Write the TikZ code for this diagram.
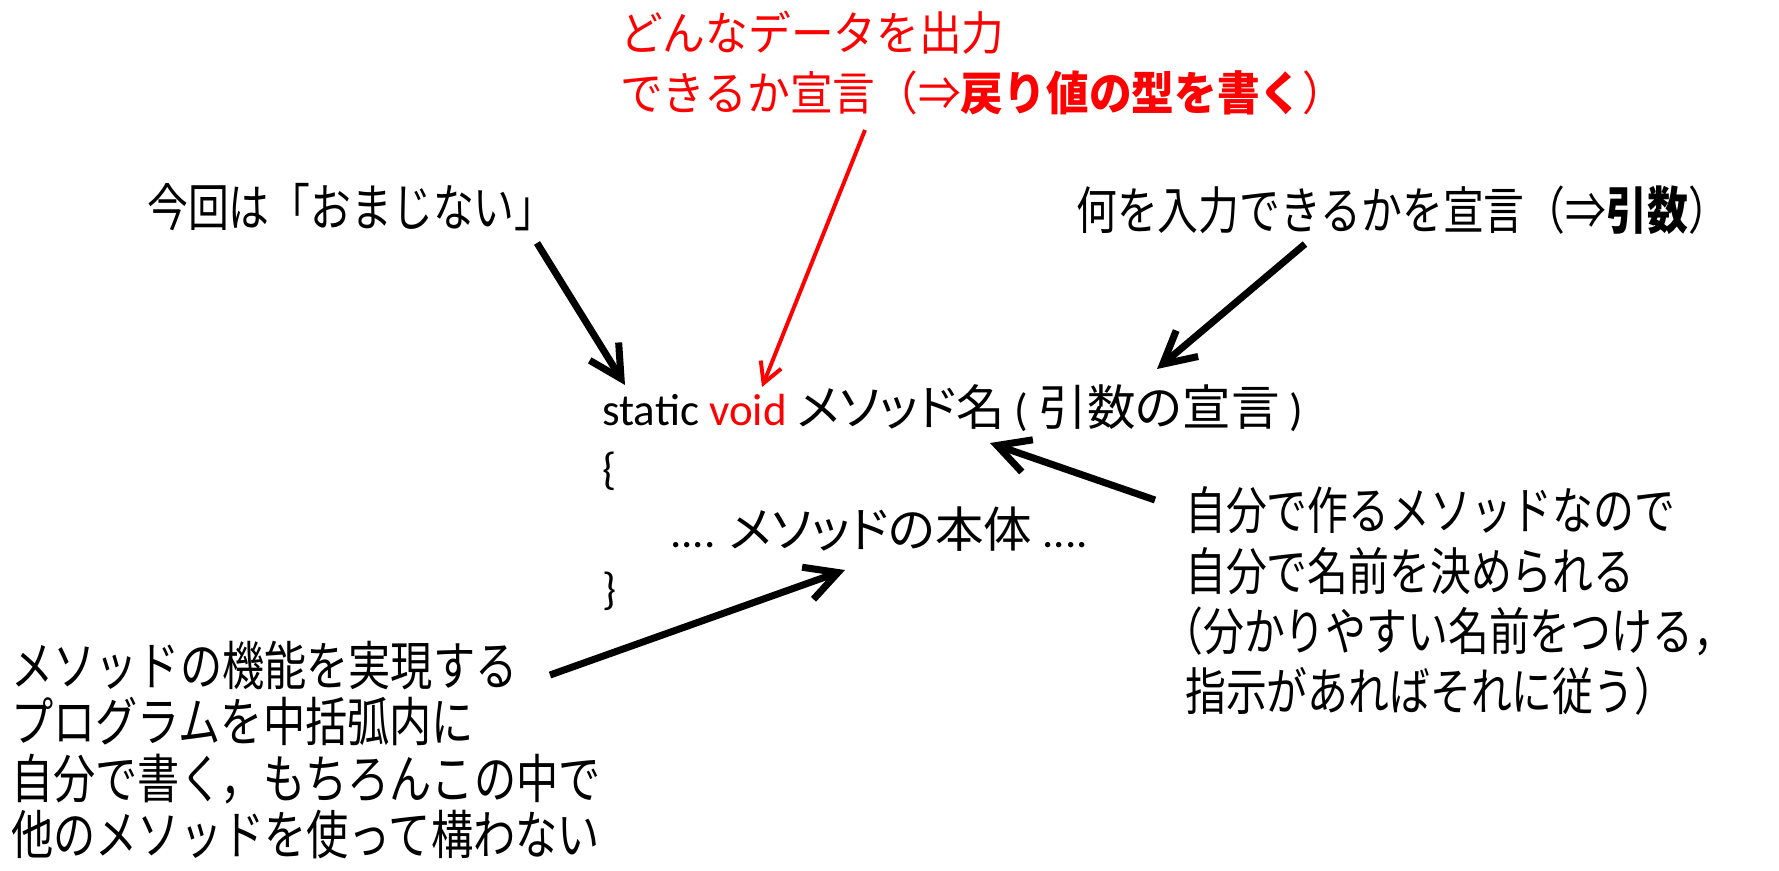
\documentclass[tikz,border=0pt]{standalone}
\usepackage{fontspec}
\setmainfont{Carlito}
\newfontfamily\jp{Noto Sans CJK JP}[FakeStretch=0.8]
\newfontfamily\jpw{Noto Sans CJK JP}[FakeStretch=0.92]
\newfontfamily\jpc{Noto Sans CJK JP}[RawFeature=+palt]
\newcommand\jpcode{\fontsize{34.5}{38}\selectfont\jpc}
\usetikzlibrary{arrows.meta}

\begin{document}
\begin{tikzpicture}[x=0.025cm,y=-0.025cm,
    note/.style={inner sep=0pt,anchor=west,align=left,font=\fontsize{36.3}{42.7}\selectfont\jp},
    code/.style={inner sep=0pt,anchor=base west,font=\fontsize{32}{38}\selectfont},
    callout/.style={line width=5pt,-{Straight Barb[length=0.8cm,width=0.85cm]}},
    redcallout/.style={draw=red,line width=2.8pt,-{Straight Barb[length=0.5cm,width=0.55cm]}}]
  \useasboundingbox (0,0) rectangle (1779,870);

  % labels round the method
  \node[note,text=red,font=\fontsize{33}{42.7}\selectfont\jpw] (dekiru) at (620,63) {どんなデータを出力\\できるか宣言（⇒\textbf{戻り値の型を書く}）};
  \node[note] (konkai) at (147,207) {今回は「おまじない」};
  \node[note] (nani) at (1076,210) {何を入力できるかを宣言（⇒\textbf{引数}）};
  \node[note] (jibun) at (1185,601) {自分で作るメソッドなので\\自分で名前を決められる\\\kern-0.45em（分かりやすい名前をつける，\\指示があればそれに従う）};
  \node[note,font=\fontsize{37.5}{40}\selectfont\jp] (kinou) at (11,750) {メソッドの機能を実現する\\プログラムを中括弧内に\\自分で書く，もちろんこの中で\\他のメソッドを使って構わない};

  % the method itself
  \node[code] (sig) at (602,425) {static \textcolor{red}{void} {\jpcode メソッド名} ( {\jpcode 引数の宣言} )};
  \node[code] (lbrace) at (602,484) {\{};
  \node[code] (body) at (670,547) {.... {\jpcode メソッドの本体} ....};
  \node[code] (rbrace) at (602,604) {\}};

  \coordinate (konkai-tail) at (537,243);
  \coordinate (konkai-tip) at (625,385);
  \coordinate (dekiru-tail) at (865,130);
  \coordinate (dekiru-tip) at (762,387);
  \coordinate (nani-tail) at (1305,244);
  \coordinate (nani-tip) at (1157,369);
  \coordinate (jibun-tail) at (1155,500);
  \coordinate (jibun-tip) at (990,443);
  \coordinate (kinou-tail) at (550,675);
  \coordinate (kinou-tip) at (845,570);

  \draw[callout] (konkai-tail) -- (konkai-tip);
  \draw[redcallout] (dekiru-tail) -- (dekiru-tip);
  \draw[callout] (nani-tail) -- (nani-tip);
  \draw[callout] (jibun-tail) -- (jibun-tip);
  \draw[callout] (kinou-tail) -- (kinou-tip);
\end{tikzpicture}
\end{document}
